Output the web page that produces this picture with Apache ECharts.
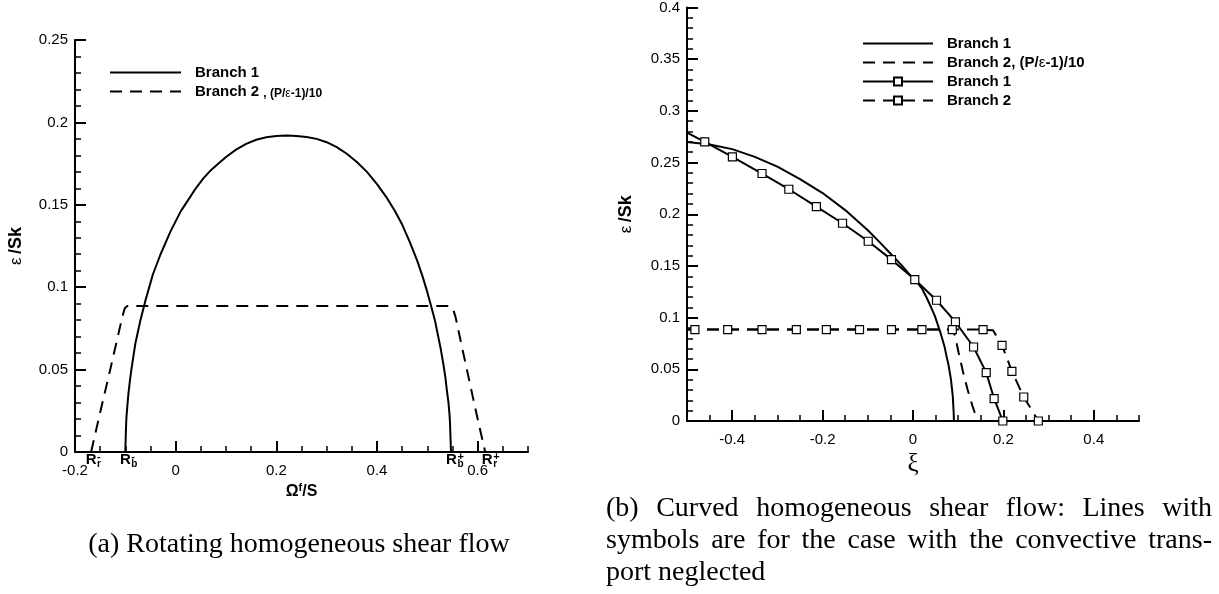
<!DOCTYPE html>
<html><head><meta charset="utf-8">
<script src="https://cdn.jsdelivr.net/npm/echarts@6/dist/echarts.min.js"></script>
<style>html,body{margin:0;padding:0;background:#fff}#c{width:1219px;height:594px}</style>
</head><body><div id="c"></div>
<script>
// ---------- (a) Rotating homogeneous shear flow ----------
const aBranch1 = [[-0.1,0],[-0.099,0.012],[-0.098,0.02],[-0.096,0.028],[-0.094,0.035],[-0.091,0.043],[-0.088,0.05],[-0.084,0.058],[-0.08,0.066],[-0.075,0.073],[-0.07,0.08],[-0.06,0.092],[-0.045,0.108],[-0.03,0.12],[-0.01,0.134],[0.01,0.146],[0.025,0.153],[0.04,0.16],[0.055,0.166],[0.07,0.171],[0.085,0.175],[0.1,0.179],[0.12,0.1835],[0.14,0.187],[0.16,0.1895],[0.18,0.191],[0.2,0.1918],[0.22,0.192],[0.24,0.1918],[0.26,0.1912],[0.28,0.19],[0.3,0.188],[0.32,0.185],[0.34,0.181],[0.36,0.176],[0.38,0.17],[0.4,0.1625],[0.42,0.154],[0.435,0.1465],[0.45,0.138],[0.465,0.1275],[0.48,0.116],[0.49,0.107],[0.5,0.097],[0.508,0.088],[0.515,0.08],[0.521,0.071],[0.527,0.062],[0.532,0.053],[0.536,0.045],[0.539,0.037],[0.542,0.03],[0.544,0.023],[0.545,0.018],[0.546,0.009],[0.547,0]];
const aBranch2 = [[-0.168,0],[-0.15,0.024],[-0.13,0.05],[-0.115,0.07],[-0.106,0.082],[-0.101,0.0873],[-0.096,0.0886],[0.545,0.0886],[0.551,0.0868],[0.556,0.082],[0.57,0.062],[0.585,0.041],[0.6,0.02],[0.615,0]];
const aXTicks = [-0.2, 0, 0.2, 0.4, 0.6];
const aRootValues = [-0.168, -0.1, 0.548, 0.619];
const aRootSubs = ['r', 'b', 'b', 'r'];
const aRootSups = ['-', '-', '+', '+'];

// ---------- (b) Curved homogeneous shear flow ----------
const bBranch1 = [[-0.5,0.270],[-0.45,0.2675],[-0.4,0.263],[-0.35,0.2555],[-0.3,0.246],[-0.25,0.234],[-0.2,0.2205],[-0.15,0.204],[-0.1,0.1845],[-0.075,0.1735],[-0.05,0.162],[-0.025,0.1505],[0,0.138],[0.01,0.1335],[0.02,0.128],[0.03,0.1195],[0.04,0.11],[0.048,0.102],[0.055,0.093],[0.06,0.0865],[0.065,0.079],[0.07,0.0715],[0.074,0.063],[0.078,0.0555],[0.081,0.048],[0.084,0.04],[0.086,0.032],[0.088,0.024],[0.089,0.016],[0.09,0.008],[0.0905,0]];
const bBranch2 = [[-0.5,0.0884],[0.088,0.0884],[0.093,0.082],[0.101,0.066],[0.111,0.047],[0.121,0.03],[0.132,0.014],[0.143,0]];
const bSym1X = [-0.5,-0.4607,-0.3996,-0.334,-0.2747,-0.2138,-0.1559,-0.0991,-0.0476,0.0039,0.052,0.0939,0.134,0.162,0.1795,0.1987];
const bSym1Y = [0.279,0.270,0.2555,0.2394,0.2242,0.2074,0.1913,0.1739,0.1561,0.1368,0.1168,0.0958,0.0716,0.0468,0.0216,0];
const bSym1Marked = [0,1,1,1,1,1,1,1,1,1,1,1,1,1,1,1];
const bSym2X = [-0.5,-0.4825,-0.41,-0.334,-0.2581,-0.1917,-0.1183,-0.0476,0.0197,0.0869,0.155,0.177,0.197,0.2188,0.245,0.2773];
const bSym2Y = [0.0884,0.0884,0.0884,0.0884,0.0884,0.0884,0.0884,0.0884,0.0884,0.0884,0.0884,0.0877,0.0732,0.0481,0.0232,0];
const bSym2Marked = [0,1,1,1,1,1,1,1,1,1,1,0,1,1,1,1];
const bXTicks = [-0.4, -0.2, 0, 0.2, 0.4];

const legendText = {
  a1: '{a|Branch 1}',
  a2: '{a|Branch 2 }{b|, (P/}{e|ε}{b|-1)/10}',
  b1: '{a|Branch 1}',
  b2: '{a|Branch 2, (P/}{e2|ε}{a2|-1)/10}',
  b3: '{a|Branch 1}',
  b4: '{a|Branch 2}'
};

const SANS = '"Liberation Sans", Arial, sans-serif';
const SERIF = '"Liberation Serif", "Times New Roman", serif';
const BLACK = '#000';

function symData(xs, ys, marks) {
  return xs.map((x, i) => ({ value: [x, ys[i]], symbol: marks[i] ? 'rect' : 'none' }));
}
function nearestIdx(v) {
  let i = 0, best = 1e9;
  aRootValues.forEach((r, k) => { const d = Math.abs(r - v); if (d < best) { best = d; i = k; } });
  return i;
}

const axisLineStyle = { show: true, onZero: false, lineStyle: { color: BLACK, width: 2 } };
const labelStyle = { color: BLACK, fontSize: 15, fontFamily: SANS };
const yName = '{e|ε} {a|/Sk}';
const yNameStyle = {
  color: BLACK,
  rich: {
    e: { fontSize: 17, fontFamily: SANS, color: BLACK },
    a: { fontSize: 18, fontWeight: 'bold', fontFamily: SANS, color: BLACK }
  }
};

function mainX(grid, min, max, ticks, extra) {
  return Object.assign({
    type: 'value', gridIndex: grid, min: min, max: max, position: 'bottom',
    axisLine: axisLineStyle,
    axisTick: { show: true, inside: true, length: 11, lineStyle: { color: BLACK, width: 2 }, customValues: ticks },
    axisLabel: Object.assign({ customValues: ticks, margin: 11 }, labelStyle),
    splitLine: { show: false }
  }, extra || {});
}
function minorX(grid, min, max) {
  return {
    type: 'value', gridIndex: grid, min: min, max: max, interval: 0.05, position: 'bottom',
    axisLine: { show: false, onZero: false },
    axisTick: { show: true, inside: true, length: 6, lineStyle: { color: BLACK, width: 1.5 } },
    axisLabel: { show: false }, splitLine: { show: false }
  };
}
function rootLabelAxis(kind) {
  const base = { fontWeight: 'bold', fontFamily: SANS, color: BLACK };
  let lab;
  if (kind === 'R') {
    lab = Object.assign({ fontSize: 15, margin: 0, align: 'center', formatter: () => 'R' }, base);
  } else if (kind === 'sub') {
    lab = Object.assign({ fontSize: 10, margin: 7, align: 'left', padding: [0, 0, 0, 6],
      formatter: v => aRootSubs[nearestIdx(v)] }, base);
  } else {
    lab = Object.assign({ fontSize: 11, margin: -1, align: 'left', padding: [0, 0, 0, 6],
      formatter: v => aRootSups[nearestIdx(v)] }, base);
  }
  lab.customValues = aRootValues;
  return {
    type: 'value', gridIndex: 0, min: -0.2, max: 0.7, position: 'bottom',
    axisLine: { show: false, onZero: false }, axisTick: { show: false }, splitLine: { show: false },
    axisLabel: lab
  };
}
function mainY(grid, max, gap) {
  return {
    type: 'value', gridIndex: grid, min: 0, max: max, interval: 0.05,
    axisLine: axisLineStyle,
    axisTick: { show: true, inside: true, length: 11, lineStyle: { color: BLACK, width: 2 } },
    minorTick: { show: true, splitNumber: 5, length: 6, lineStyle: { color: BLACK, width: 1.5 } },
    axisLabel: Object.assign({ margin: 7 }, labelStyle),
    splitLine: { show: false }, minorSplitLine: { show: false },
    name: yName, nameLocation: 'middle', nameGap: gap, nameTextStyle: yNameStyle
  };
}

const chart = echarts.init(document.getElementById('c'));

// caption layout (justified lines like the LaTeX original)
const ctx = document.createElement('canvas').getContext('2d');
const CAP_SIZE = 28;
ctx.font = CAP_SIZE + 'px "Liberation Serif"';
function capText(t, x, y, align) {
  return { type: 'text', x: x, y: y, silent: true,
    style: { text: t, fontSize: CAP_SIZE, fontFamily: SERIF, fill: BLACK, align: align || 'left', verticalAlign: 'middle' } };
}
function justify(words, x0, x1, y) {
  const w = words.map(s => ctx.measureText(s).width);
  const total = w.reduce((a, b) => a + b, 0);
  const gap = (x1 - x0 - total) / (words.length - 1);
  let x = x0; const out = [];
  words.forEach((s, i) => { out.push(capText(s, x, y)); x += w[i] + gap; });
  return out;
}
const captionEls = [].concat(
  [capText('(a) Rotating homogeneous shear flow', 299, 545, 'center')],
  justify(['(b)', 'Curved', 'homogeneous', 'shear', 'flow:', 'Lines', 'with'], 606, 1212, 509),
  justify(['symbols', 'are', 'for', 'the', 'case', 'with', 'the', 'convective', 'trans-'], 606, 1212, 541),
  [capText('port neglected', 606, 573)]
);

const legendRich = {
  a: { fontSize: 15, fontWeight: 'bold', fontFamily: SANS, color: BLACK, lineHeight: 16, padding: [0, 0, 0, 9] },
  a2: { fontSize: 15, fontWeight: 'bold', fontFamily: SANS, color: BLACK, lineHeight: 16 },
  b: { fontSize: 12, fontWeight: 'bold', fontFamily: SANS, color: BLACK, lineHeight: 8, verticalAlign: 'bottom' },
  e: { fontSize: 12, fontFamily: SANS, color: BLACK, lineHeight: 8, verticalAlign: 'bottom' },
  e2: { fontSize: 15, fontFamily: SANS, color: BLACK, lineHeight: 16 }
};

const option = {
  backgroundColor: '#fff',
  animation: false,
  grid: [
    { left: 75, top: 40, width: 453, height: 412 },
    { left: 687, top: 7, width: 452, height: 414 }
  ],
  xAxis: [
    mainX(0, -0.2, 0.7, aXTicks, {
      name: '{o|Ω}{f|f}{o|/S}', nameLocation: 'middle', nameGap: 30,
      nameTextStyle: { color: BLACK, rich: {
        o: { fontSize: 16, fontWeight: 'bold', fontFamily: SANS, color: BLACK, lineHeight: 18 },
        f: { fontSize: 11, fontWeight: 'bold', fontFamily: SANS, color: BLACK, lineHeight: 11, verticalAlign: 'top' }
      } }
    }),
    minorX(0, -0.2, 0.7),
    rootLabelAxis('R'),
    rootLabelAxis('sub'),
    rootLabelAxis('sup'),
    mainX(1, -0.5, 0.5, bXTicks, {
      name: 'ξ', nameLocation: 'middle', nameGap: 24,
      nameTextStyle: { color: BLACK, fontSize: 25, fontFamily: SERIF }
    }),
    minorX(1, -0.5, 0.5)
  ],
  yAxis: [
    mainY(0, 0.25, 50),
    mainY(1, 0.4, 52)
  ],
  legend: [
    {
      data: [{ name: 'a1', itemStyle: { opacity: 0 } }, { name: 'a2', itemStyle: { opacity: 0 } }],
      orient: 'vertical', left: 109, top: 65, padding: 0, itemWidth: 71, itemHeight: 14, itemGap: 4,
      selectedMode: false, formatter: n => legendText[n], textStyle: { rich: legendRich }
    },
    {
      data: [{ name: 'b1', itemStyle: { opacity: 0 } }, { name: 'b2', itemStyle: { opacity: 0 } }, 'b3', 'b4'],
      orient: 'vertical', left: 862, top: 36, padding: 0, itemWidth: 70, itemHeight: 10, itemGap: 4,
      selectedMode: false, formatter: n => legendText[n], textStyle: { rich: legendRich }
    }
  ],
  graphic: captionEls,
  series: [
    { name: 'a1', type: 'line', xAxisIndex: 0, yAxisIndex: 0, data: aBranch1, symbol: 'none',
      lineStyle: { color: BLACK, width: 2 }, itemStyle: { color: BLACK } },
    { name: 'a2', type: 'line', xAxisIndex: 0, yAxisIndex: 0, data: aBranch2, symbol: 'none',
      lineStyle: { color: BLACK, width: 2, type: [12, 8] }, itemStyle: { color: BLACK } },
    { name: 'b1', type: 'line', xAxisIndex: 5, yAxisIndex: 1, data: bBranch1, symbol: 'none',
      lineStyle: { color: BLACK, width: 2 }, itemStyle: { color: BLACK } },
    { name: 'b2', type: 'line', xAxisIndex: 5, yAxisIndex: 1, data: bBranch2, symbol: 'none',
      lineStyle: { color: BLACK, width: 2, type: [12, 8] }, itemStyle: { color: BLACK } },
    { name: 'b3', type: 'line', xAxisIndex: 5, yAxisIndex: 1, data: symData(bSym1X, bSym1Y, bSym1Marked),
      symbol: 'rect', symbolSize: 8, showAllSymbol: true,
      lineStyle: { color: BLACK, width: 2 }, itemStyle: { color: '#fff', borderColor: BLACK, borderWidth: 1.2 } },
    { name: 'b4', type: 'line', xAxisIndex: 5, yAxisIndex: 1, data: symData(bSym2X, bSym2Y, bSym2Marked),
      symbol: 'rect', symbolSize: 8, showAllSymbol: true,
      lineStyle: { color: BLACK, width: 2, type: [12, 8] }, itemStyle: { color: '#fff', borderColor: BLACK, borderWidth: 1.2 } }
  ]
};
chart.setOption(option);
</script>
</body></html>
